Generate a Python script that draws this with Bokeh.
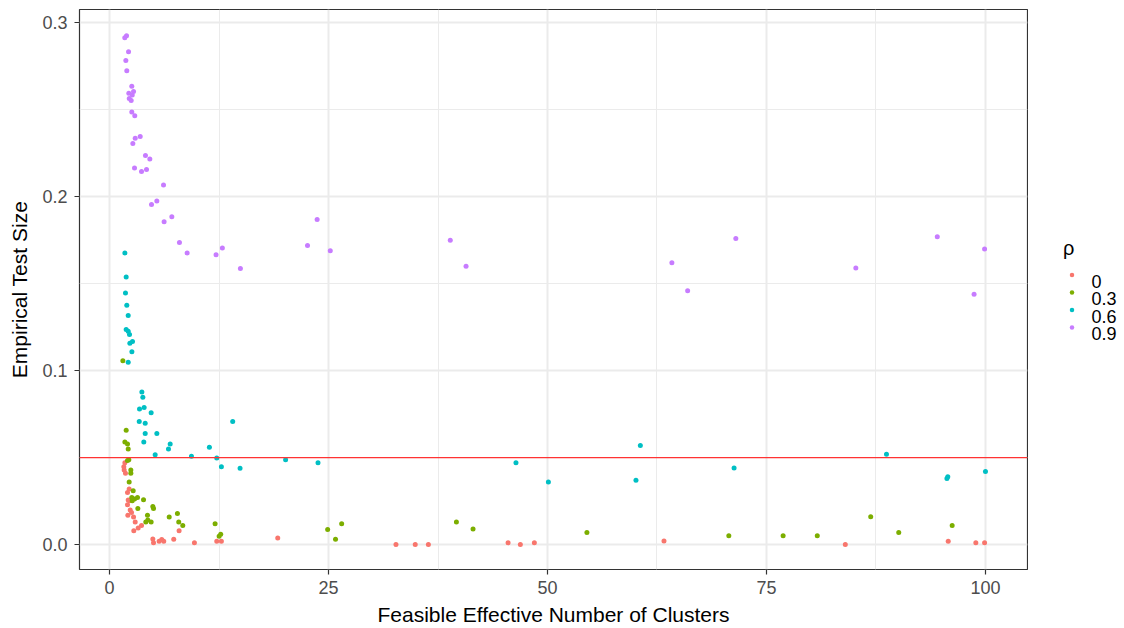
from bokeh.plotting import figure
from bokeh.layouts import row
from bokeh.models import ColumnDataSource, FixedTicker, Span, Range1d
from bokeh.core.properties import value
from bokeh.embed import file_html
from bokeh.resources import INLINE

# ---- data ----
rho_title = "ρ"
rho_labels = ["0", "0.3", "0.6", "0.9"]
colors = ["#F8766D", "#7CAE00", "#00BFC4", "#C77CFF"]

x_rho0 = [1.75, 1.63, 1.67, 1.82, 2.05, 2.24, 2.13, 2.28, 2.05, 2.36, 2.51, 2.09, 2.74, 2.93,
          3.27, 3.65, 2.77, 7.94, 4.94, 5.02, 5.66, 5.96, 6.19, 7.33, 9.69, 12.24, 12.77, 19.2,
          32.7, 34.9, 36.4, 45.5, 46.9, 48.5, 63.3, 84.0, 95.75, 98.9, 99.9]
y_rho0 = [0.0471, 0.0448, 0.0429, 0.0410, 0.0300, 0.0319, 0.0256, 0.0252, 0.0229, 0.0199, 0.0185,
          0.0168, 0.0158, 0.0130, 0.0095, 0.0109, 0.0080, 0.0080, 0.0032, 0.0010, 0.0019, 0.0029,
          0.0019, 0.0030, 0.0010, 0.0019, 0.0019, 0.0038,
          0.0, 0.0, 0.0, 0.001, 0.0, 0.001, 0.002, 0.0, 0.0019, 0.001, 0.001]

x_rho3 = [1.52, 1.90, 1.75, 2.05, 2.13, 2.20, 2.05, 2.43, 2.43, 2.24, 2.70, 2.54, 2.85, 3.19,
          2.59, 3.88, 3.23, 4.94, 5.02, 7.75, 6.81, 4.33, 4.37, 4.14, 4.75, 7.90, 8.36, 12.05,
          12.69, 12.51, 24.9, 25.8, 26.5, 39.6, 41.5, 54.5, 70.7, 76.9, 80.8, 86.9, 90.1, 96.2]
y_rho3 = [0.1057, 0.0658, 0.0590, 0.0578, 0.0550, 0.0487, 0.0483, 0.0429, 0.0410, 0.0359, 0.0309,
          0.0271, 0.0262, 0.0271, 0.0252, 0.0258, 0.0208, 0.0219, 0.0208, 0.0179, 0.0158, 0.0168,
          0.0141, 0.0130, 0.0130, 0.0130, 0.0109, 0.0120, 0.0059, 0.0048,
          0.0086, 0.003, 0.012, 0.013, 0.009, 0.007, 0.005, 0.005, 0.005, 0.016, 0.0069, 0.0109]

x_rho6 = [1.75, 1.90, 1.82, 1.97, 2.13, 1.90, 2.13, 2.28, 2.62, 2.32, 2.55, 2.13, 3.69, 3.80,
          3.95, 3.42, 4.75, 3.39, 4.07, 4.07, 5.40, 3.91, 6.92, 6.73, 5.21, 9.35, 11.40, 14.06,
          12.24, 12.77, 14.90, 20.1, 23.8, 46.4, 50.1, 60.6, 60.1, 71.3, 88.7, 95.6, 95.7, 100.0]
y_rho6 = [0.1677, 0.1538, 0.1447, 0.1376, 0.1317, 0.1237, 0.1227, 0.1208, 0.1168, 0.1158, 0.1109,
          0.1048, 0.0878, 0.0847, 0.0788, 0.0779, 0.0758, 0.0708, 0.0698, 0.0639, 0.0639, 0.0590,
          0.0578, 0.0550, 0.0517, 0.0508, 0.0559, 0.0708, 0.0498, 0.0448, 0.0439,
          0.0487, 0.047, 0.047, 0.036, 0.057, 0.037, 0.044, 0.052, 0.038, 0.039, 0.042]

x_rho9 = [1.94, 1.74, 2.17, 1.86, 1.97, 2.54, 2.74, 2.20, 2.59, 2.25, 2.47, 2.54, 2.88, 3.50,
          2.93, 2.66, 4.10, 4.60, 2.85, 3.65, 4.22, 6.16, 5.40, 4.79, 7.11, 6.23, 7.98, 8.86,
          12.16, 12.88, 14.94, 22.6, 23.7, 25.2, 38.9, 40.7, 64.2, 66.0, 71.5, 85.2, 94.5, 98.7, 99.9]
y_rho9 = [0.2926, 0.2914, 0.2834, 0.2784, 0.2725, 0.2635, 0.2605, 0.2595, 0.2586, 0.2565, 0.2554,
          0.2487, 0.2466, 0.2346, 0.2336, 0.2306, 0.2237, 0.2217, 0.2166, 0.2145, 0.2157, 0.2067,
          0.1975, 0.1956, 0.1885, 0.1857, 0.1737, 0.1677, 0.1666, 0.1706, 0.1588,
          0.172, 0.187, 0.169, 0.175, 0.160, 0.162, 0.146, 0.176, 0.159, 0.177, 0.144, 0.170]

nominal_size = 0.05

x_ticks = [0, 25, 50, 75, 100]
x_tick_labels = ["0", "25", "50", "75", "100"]
x_minor = [12.5, 37.5, 62.5, 87.5]
y_ticks = [0.0, 0.1, 0.2, 0.3]
y_tick_labels = ["0.0", "0.1", "0.2", "0.3"]
y_minor = [0.05, 0.15, 0.25]

xs = [x_rho0, x_rho3, x_rho6, x_rho9]
ys = [y_rho0, y_rho3, y_rho6, y_rho9]

FONT = "Liberation Sans"

# ---- main panel ----
FRAME_TOP, FRAME_BOTTOM = 9, 570
p = figure(width=1028, height=628, output_backend="svg", toolbar_location=None,
           x_range=Range1d(-3.43, 104.8), y_range=Range1d(-0.01435, 0.3077),
           min_border_left=79, min_border_right=1, min_border_top=FRAME_TOP,
           min_border_bottom=628 - FRAME_BOTTOM)

p.background_fill_color = "white"
p.border_fill_color = "white"
p.outline_line_color = "#333333"
p.outline_line_width = 1.2

p.add_layout(Span(location=nominal_size, dimension="width", line_color="#FF3333", line_width=1.1))

for xv, yv, c in zip(xs, ys, colors):
    src = ColumnDataSource(dict(x=xv, y=yv))
    p.scatter("x", "y", source=src, size=5, color=c, line_color=None)

p.xaxis.ticker = FixedTicker(ticks=x_ticks, minor_ticks=x_minor)
p.yaxis.ticker = FixedTicker(ticks=y_ticks, minor_ticks=y_minor)
p.xaxis.major_label_overrides = {t: l for t, l in zip(x_ticks, x_tick_labels)}
p.yaxis.major_label_overrides = {t: l for t, l in zip(y_ticks, y_tick_labels)}

for ax in (p.xaxis, p.yaxis):
    ax.axis_line_color = None
    ax.major_tick_line_color = "#333333"
    ax.major_tick_line_width = 1.2
    ax.major_tick_out = 5
    ax.major_tick_in = 0
    ax.minor_tick_line_color = None
    ax.major_label_text_font = FONT
    ax.major_label_text_font_size = "18px"
    ax.major_label_text_color = "#4D4D4D"
    ax.axis_label_text_font = FONT
    ax.axis_label_text_font_size = "21px"
    ax.axis_label_text_font_style = "normal"
    ax.axis_label_text_color = "black"

p.xaxis.axis_label = "Feasible Effective Number of Clusters"
p.yaxis.axis_label = "Empirical Test Size"
p.xaxis.major_label_standoff = 6
p.yaxis.major_label_standoff = 7
p.xaxis.axis_label_standoff = 6
p.yaxis.axis_label_standoff = 8

for g in (p.xgrid, p.ygrid):
    g.grid_line_color = "#EBEBEB"
    g.grid_line_width = 2
    g.minor_grid_line_color = "#EBEBEB"
    g.minor_grid_line_width = 1

# ---- legend panel (pixel-like coords, y down) ----
L_W = 96
lg = figure(width=L_W, height=628, output_backend="svg", toolbar_location=None,
            x_range=Range1d(1028, 1028 + L_W), y_range=Range1d(FRAME_BOTTOM, FRAME_TOP),
            x_axis_location=None, y_axis_location=None,
            min_border=0, min_border_left=0, min_border_right=0,
            min_border_top=FRAME_TOP, min_border_bottom=628 - FRAME_BOTTOM,
            outline_line_color=None)
lg.grid.visible = False
lg.background_fill_color = "white"
lg.border_fill_color = "white"

DY = -6
key_x = 1071.5
label_x = 1091
first_y = 281 + DY
step = 17.5
key_y = [first_y + step * i for i in range(len(rho_labels))]

lg.text(x=[1062.5], y=[254 + DY], text=[rho_title], text_font=value(FONT), text_font_size="20px",
        text_color="black", text_baseline="alphabetic", text_align="left")
lg.scatter(x=[key_x] * len(colors), y=key_y, color=colors, size=4.5, line_color=None)
lg.text(x=[label_x] * len(rho_labels), y=[v + 6.5 for v in key_y], text=rho_labels,
        text_font=value(FONT), text_font_size="18px", text_color="black",
        text_baseline="alphabetic", text_align="left")

layout = row(p, lg, spacing=0)
open("out.html", "w").write(file_html(layout, INLINE))
